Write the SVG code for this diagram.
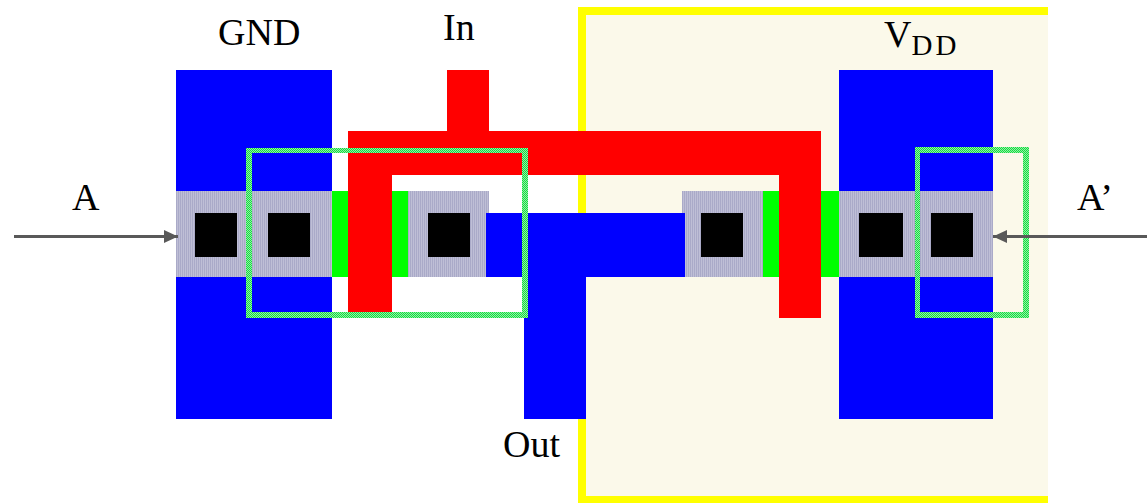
<svg xmlns="http://www.w3.org/2000/svg" width="1147" height="503" viewBox="0 0 1147 503">
<defs>
<pattern id="active" patternUnits="userSpaceOnUse" width="2" height="2"><rect width="2" height="2" fill="#bfbfd6"/><rect width="1" height="2" fill="#aaaac8"/></pattern>
<pattern id="check" patternUnits="userSpaceOnUse" width="2" height="2"><rect width="2" height="2" fill="#90f0a6"/><rect width="1" height="1" fill="#16dc40"/><rect x="1" y="1" width="1" height="1" fill="#16dc40"/></pattern>
<marker id="arrow" markerUnits="userSpaceOnUse" markerWidth="16" markerHeight="16" refX="14" refY="8" orient="auto"><path d="M0 1.5L14 8L0 14.5Z" fill="#595959"/></marker>
</defs>
<style>
text{font-family:"Liberation Serif","Times New Roman",serif;fill:#000;font-size:38px}
.m{fill:#00f}.p{fill:#f00}.d{fill:#0f0}.a{fill:url(#active)}.c{fill:#000}
.box{fill:url(#check)}
.wire{stroke:#595959;stroke-width:3;fill:none}
</style>
<g id="well"><rect x="582" y="11" width="466" height="489" fill="#fbf9ea"/><path d="M1048 11H582V500H1048" fill="none" stroke="#ff0" stroke-width="8"/></g>
<g id="gnd-rail"><rect class="m" x="176" y="70" width="156" height="349"/></g>
<g id="vdd-rail"><rect class="m" x="839" y="70" width="154" height="349"/></g>
<g id="diff-left">
<rect class="a" x="176" y="191" width="156" height="86"/>
<rect class="d" x="332" y="191" width="16" height="86"/>
<rect class="d" x="392" y="191" width="16" height="86"/>
<rect class="a" x="408" y="191" width="81" height="86"/>
<rect class="c" x="195" y="213" width="42" height="44"/>
<rect class="c" x="268" y="213" width="42" height="44"/>
<rect class="c" x="428" y="213" width="42" height="44"/>
</g>
<g id="diff-right">
<rect class="a" x="682" y="191" width="81" height="86"/>
<rect class="d" x="763" y="191" width="16" height="86"/>
<rect class="d" x="821" y="191" width="18" height="86"/>
<rect class="a" x="839" y="191" width="154" height="86"/>
<rect class="c" x="701" y="213" width="42" height="44"/>
<rect class="c" x="859" y="213" width="44" height="44"/>
<rect class="c" x="931" y="213" width="42" height="44"/>
</g>
<g id="out-metal"><path class="m" d="M486 213H685V277H586V419H524V277H486Z"/></g>
<g id="in-poly"><path class="p" d="M447 70H489V131H821V318H779V175H392V312H348V131H447Z"/></g>
<g id="box-a"><path class="box" fill-rule="evenodd" d="M246 148H528V318H246ZM252 153V312H522V153Z"/></g>
<g id="box-b"><path class="box" fill-rule="evenodd" d="M915 147H1029V318H915ZM920 153V312H1023V153Z"/></g>
<g id="connectors">
<line class="wire" x1="14" y1="236.5" x2="178" y2="236.5" marker-end="url(#arrow)"/>
<line class="wire" x1="1147" y1="236.5" x2="993" y2="236.5" marker-end="url(#arrow)"/>
</g>
<g id="labels">
<text x="218" y="45">GND</text>
<text x="443" y="40">In</text>
<text x="884" y="47">V<tspan font-size="29" dy="8" letter-spacing="3">DD</tspan></text>
<text x="72" y="210">A</text>
<text x="1077" y="210">A’</text>
<text x="503" y="457">Out</text>
</g>
</svg>
